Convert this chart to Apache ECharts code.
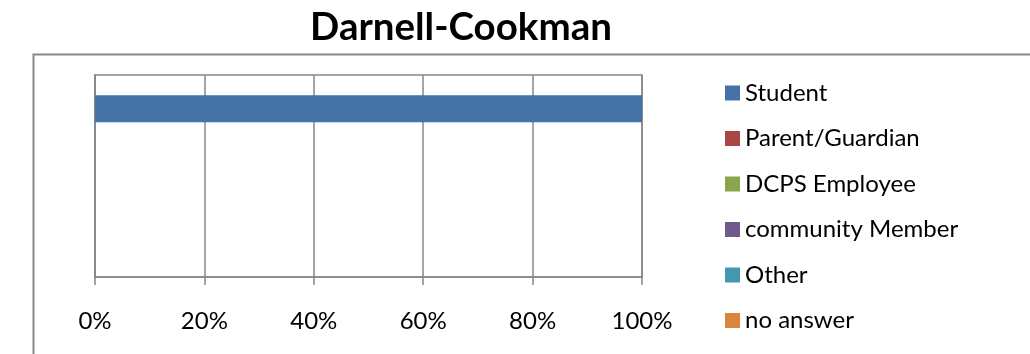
<!DOCTYPE html>
<html>
<head>
<meta charset="utf-8">
<script src="https://cdn.jsdelivr.net/npm/echarts@6/dist/echarts.min.js"></script>
<style>
  html, body { margin: 0; padding: 0; background: #ffffff; }
  #chart { width: 1030px; height: 354px; }
</style>
</head>
<body>
<div id="chart"></div>
<script>
// Respondent groups, stacked as shares of 100% per row
const chartTitle = 'Darnell-Cookman';
const rows = ['', '', ''];
const seriesNames = ['Student', 'Parent/Guardian', 'DCPS Employee', 'community Member', 'Other', 'no answer'];
const seriesColors = ['#4572A7', '#AA4643', '#89A54E', '#71588F', '#4198AF', '#DB843D'];
const studentValues = [100, 0, 0];
const parentValues = [0, 0, 0];
const employeeValues = [0, 0, 0];
const communityValues = [0, 0, 0];
const otherValues = [0, 0, 0];
const noAnswerValues = [0, 0, 0];
const xTicks = [0, 20, 40, 60, 80, 100];

const allValues = [studentValues, parentValues, employeeValues, communityValues, otherValues, noAnswerValues];
const FONT = 'Lato, "Open Sans", sans-serif';
const GREY = '#878787';

const chart = echarts.init(document.getElementById('chart'), null, { renderer: 'canvas' });

chart.setOption({
  animation: false,
  backgroundColor: '#ffffff',
  title: {
    text: chartTitle,
    left: 456,
    top: 3,
    textAlign: 'center',
    textStyle: { fontFamily: FONT, fontSize: 38.5, fontWeight: 'bold', color: '#000000' }
  },
  graphic: [{
    type: 'rect',
    shape: { x: 33.5, y: 54.5, width: 1100, height: 400 },
    style: { fill: 'none', stroke: '#888888', lineWidth: 2 },
    silent: true,
    z: -1
  }],
  legend: {
    orient: 'vertical',
    left: 725,
    top: 81,
    height: 1000,
    padding: 0,
    itemWidth: 15,
    itemHeight: 15,
    itemGap: 21.5,
    icon: 'rect',
    data: seriesNames,
    textStyle: { fontFamily: FONT, fontSize: 24, color: '#000000' }
  },
  grid: {
    left: 95,
    top: 75,
    width: 547,
    height: 202,
    show: true,
    borderColor: GREY,
    borderWidth: 1.5,
    containLabel: false
  },
  xAxis: {
    type: 'value',
    min: xTicks[0],
    max: xTicks[xTicks.length - 1],
    interval: xTicks[1] - xTicks[0],
    axisLine: { show: true, lineStyle: { color: GREY, width: 1.5 } },
    axisTick: { show: true, length: 8, lineStyle: { color: GREY, width: 1.5 } },
    axisLabel: {
      formatter: '{value}%',
      margin: 32,
      fontFamily: FONT,
      fontSize: 24,
      color: '#000000'
    },
    splitLine: { show: true, lineStyle: { color: GREY, width: 1.5 } }
  },
  yAxis: {
    type: 'category',
    data: rows,
    inverse: true,
    axisLine: { show: true, lineStyle: { color: GREY, width: 1.5 } },
    axisTick: { show: false },
    axisLabel: { show: false },
    splitLine: { show: false }
  },
  series: seriesNames.map((name, i) => ({
    name: name,
    type: 'bar',
    stack: 'total',
    barCategoryGap: '60%',
    data: allValues[i],
    itemStyle: { color: seriesColors[i] }
  }))
});
</script>
</body>
</html>
